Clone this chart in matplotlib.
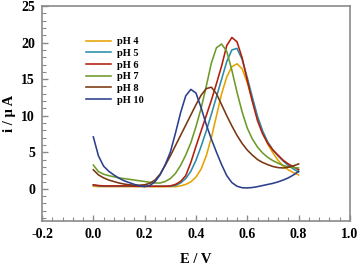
import matplotlib
matplotlib.use('Agg')
import matplotlib.pyplot as plt, numpy as np
from matplotlib.ticker import AutoMinorLocator, MultipleLocator

# Potential grid [V] and current readings [uA] for each pH
potential = np.linspace(0.0, 0.8, 41)

i_ph4 = [0.35, 0.3, 0.3, 0.3, 0.3, 0.3, 0.3, 0.3, 0.3, 0.3, 0.3, 0.3, 0.3, 0.3,
         0.3, 0.3, 0.3, 0.4, 0.6, 0.95, 1.6, 2.7, 4.5, 7.0, 10.0, 13.0, 15.3,
         16.7, 17.1, 16.4, 14.5, 12.1, 9.7, 7.7, 6.1, 4.9, 3.9, 3.1, 2.6, 2.2, 1.9]
i_ph5 = [0.5, 0.4, 0.35, 0.35, 0.35, 0.35, 0.35, 0.35, 0.35, 0.35, 0.35, 0.35, 0.35,
         0.35, 0.35, 0.35, 0.45, 0.8, 1.4, 2.4, 3.9, 5.8, 7.9, 10.2, 12.6, 15.0,
         17.4, 19.0, 19.2, 17.7, 15.2, 12.5, 9.9, 7.9, 6.4, 5.3, 4.5, 3.8, 3.2,
         2.7, 2.3]
i_ph6 = [0.55, 0.45, 0.4, 0.4, 0.4, 0.4, 0.4, 0.4, 0.35, 0.35, 0.35, 0.35, 0.35,
         0.35, 0.35, 0.4, 0.6, 1.0, 1.8, 3.6, 5.8, 7.9, 10.0, 12.1, 14.4, 16.8,
         19.6, 20.7, 20.1, 17.9, 14.8, 11.9, 9.3, 7.5, 6.2, 5.3, 4.6, 3.9, 3.4,
         3.0, 2.6]
i_ph7 = [3.25, 2.35, 2.0, 1.8, 1.65, 1.5, 1.4, 1.3, 1.2, 1.1, 1.0, 0.9, 0.8, 0.8,
         1.0, 1.4, 2.1, 3.2, 4.6, 6.3, 8.5, 11.0, 14.0, 17.2, 19.3, 19.8, 18.8,
         16.2, 13.2, 10.5, 8.3, 6.8, 5.7, 4.9, 4.3, 3.85, 3.5, 3.2, 3.0, 2.9, 2.85]
i_ph8 = [2.6, 1.9, 1.5, 1.2, 1.0, 0.8, 0.65, 0.55, 0.5, 0.5, 0.55, 0.75, 1.2, 2.0,
         3.2, 4.5, 5.9, 7.3, 8.7, 10.1, 11.5, 12.8, 13.7, 13.9, 13.0, 11.5, 10.0,
         8.6, 7.3, 6.2, 5.3, 4.6, 4.0, 3.6, 3.3, 3.05, 2.9, 2.85, 2.95, 3.15, 3.4]
i_ph10 = [7.1, 4.5, 3.1, 2.4, 1.9, 1.45, 1.1, 0.85, 0.6, 0.4, 0.3, 0.45, 0.95, 1.9,
          3.3, 5.0, 7.6, 10.4, 12.7, 13.6, 13.1, 11.1, 8.8, 6.8, 5.0, 3.3, 1.8,
          0.85, 0.35, 0.15, 0.12, 0.18, 0.3, 0.45, 0.6, 0.75, 0.95, 1.2, 1.5, 1.9, 2.4]

labels = ['pH 4', 'pH 5', 'pH 6', 'pH 7', 'pH 8', 'pH 10']
colors = ['#E8A200', '#2B8CAB', '#B31E0C', '#6E9A28', '#7A3612', '#2C3F8C']
series = [i_ph4, i_ph5, i_ph6, i_ph7, i_ph8, i_ph10]

plt.rcParams['font.family'] = ['Liberation Serif', 'DejaVu Serif']
plt.rcParams['font.weight'] = 'bold'

fig = plt.figure(figsize=(3.6, 2.66), dpi=100)
ax = fig.add_axes([0.1167, 0.1692, 0.8553, 0.8082])

for y, c, lab in zip(series, colors, labels):
    ax.plot(potential, y, color=c, lw=1.15, label=lab)

ax.set_xlim(-0.2, 1.0)
ax.set_ylim(-4.4, 25)
ax.xaxis.set_major_locator(MultipleLocator(0.2))
ax.yaxis.set_major_locator(MultipleLocator(5))
ax.xaxis.set_minor_locator(AutoMinorLocator(5))
ax.yaxis.set_minor_locator(AutoMinorLocator(5))
ax.xaxis.set_major_formatter(plt.FuncFormatter(lambda v, p: '{:.1f}'.format(v)))

# Gray frame, ticks pointing inward on left/bottom only
for s in ax.spines.values():
    s.set_color('#8a8a8a')
    s.set_linewidth(1.2)
ax.tick_params(which='both', direction='in', top=False, right=False,
               color='#8a8a8a', labelsize=10)
ax.tick_params(which='major', length=4.5, width=1, pad=5)
ax.tick_params(which='minor', length=3, width=0.8)
for t in ax.get_xticklabels() + ax.get_yticklabels():
    t.set_fontweight('bold')

ax.set_xlabel('E / V', fontsize=10.5, fontweight='bold', labelpad=9)
ax.set_ylabel('i / μ A', fontsize=10.5, fontweight='bold', labelpad=4)

leg = ax.legend(loc='upper left', bbox_to_anchor=(0.13, 0.875), frameon=False,
                fontsize=7.5, handlelength=2.4, labelspacing=0.23,
                handletextpad=0.6, borderaxespad=0)
for t in leg.get_texts():
    t.set_fontweight('bold')

fig.savefig('out.png', dpi=100)
